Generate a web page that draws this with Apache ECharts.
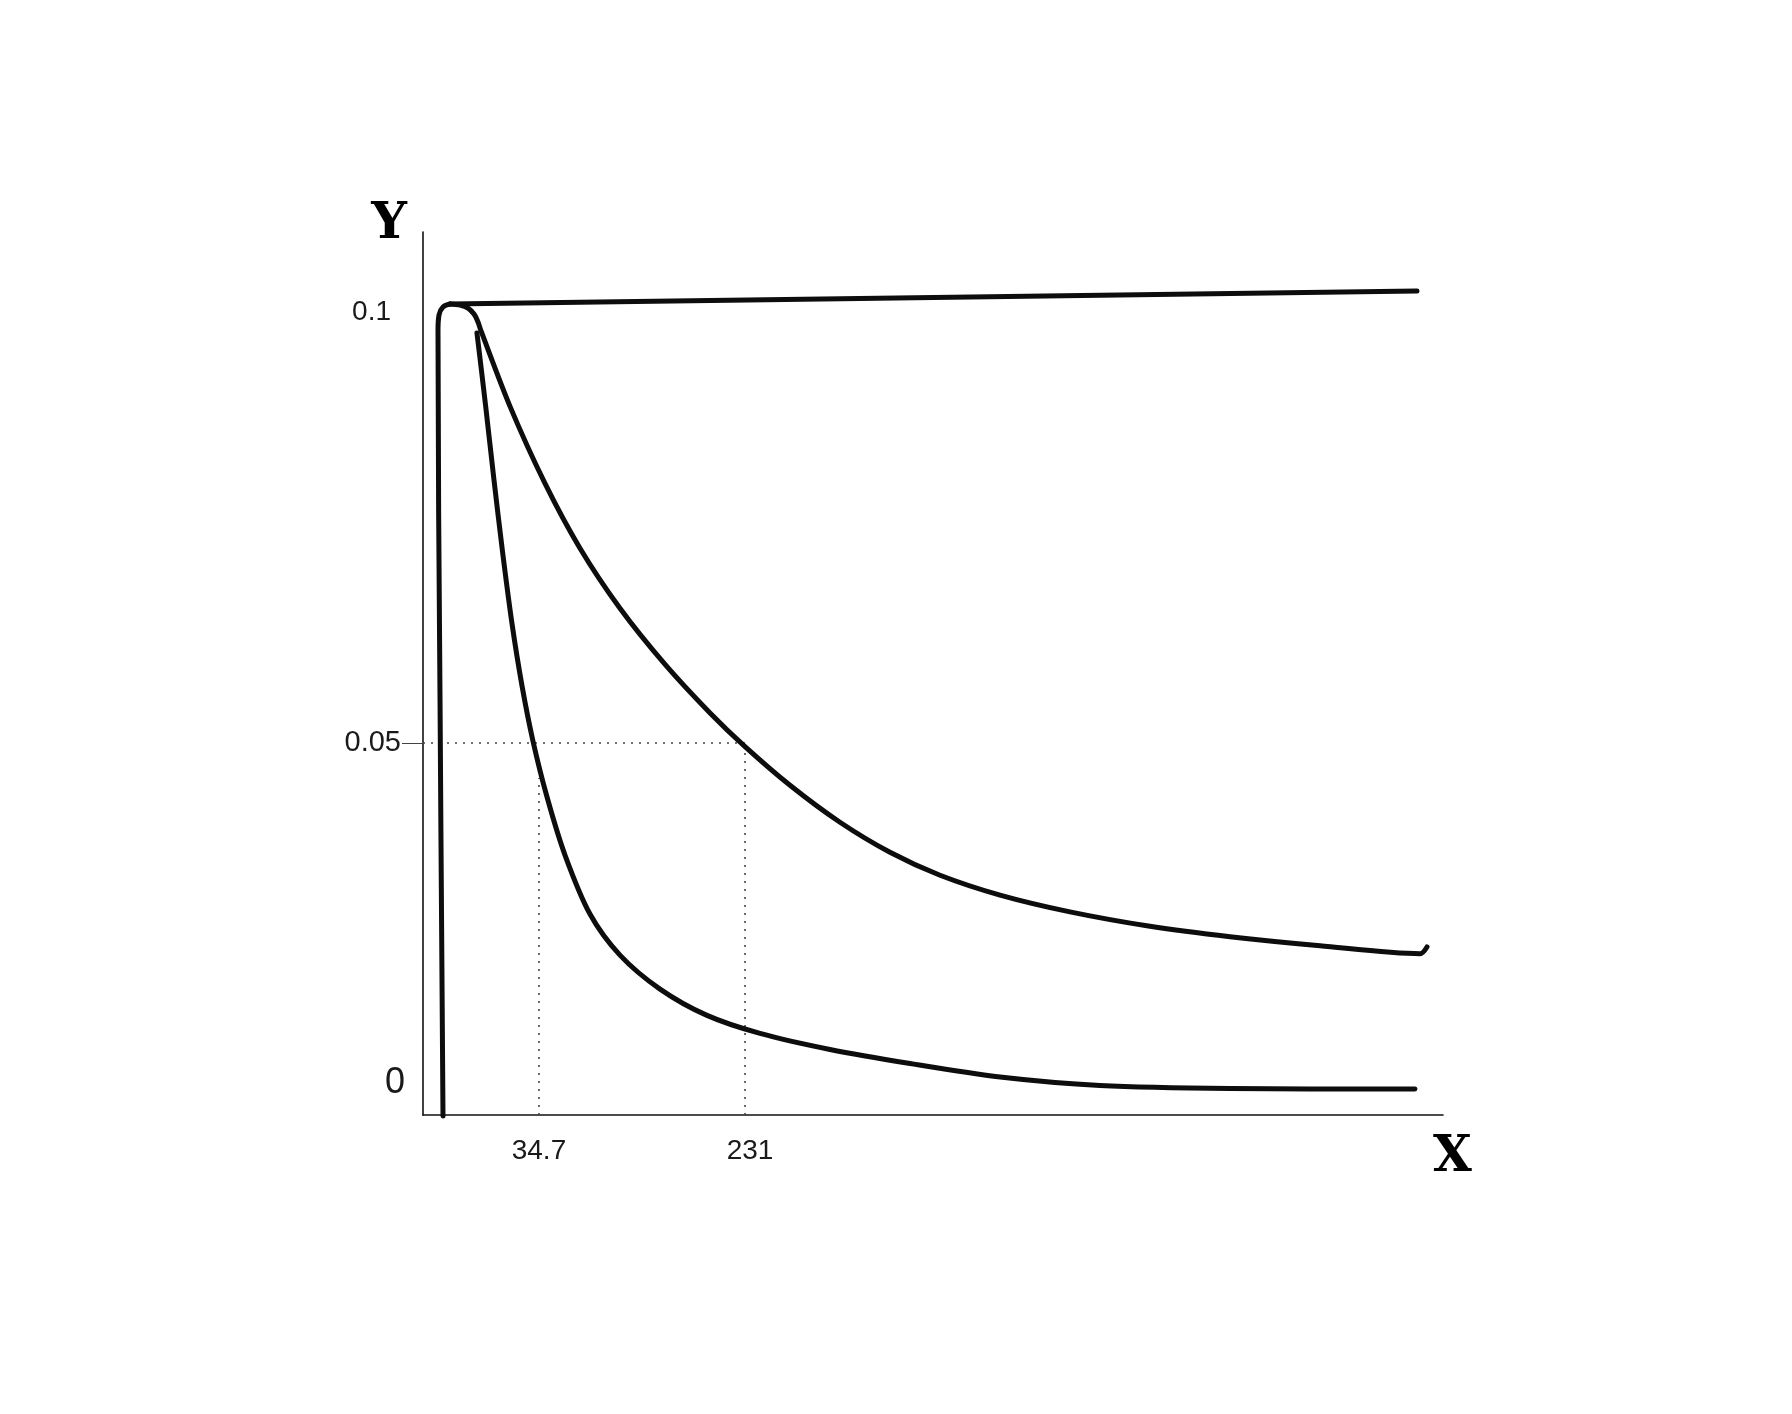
<!DOCTYPE html>
<html>
<head>
<meta charset="utf-8">
<script src="https://cdn.jsdelivr.net/npm/echarts@6/dist/echarts.min.js"></script>
<style>
  html, body { margin: 0; padding: 0; background: #ffffff; }
  #chart { width: 1792px; height: 1414px; }
</style>
</head>
<body>
<div id="chart"></div>
<script>
// Sketch chart: axes are drawn in nominal sketch units (0..100 on each axis);
// tick labels are placed where the sketch puts them.
var xTickPos = [11.37, 31.57];
var xTickText = ['34.7', '231'];
var yTickPos = [3.62, 42.13, 90.94];
var yTickText = ['0', '0.05', '0.1'];

// initial rise to the plateau
var riseX = [1.96, 1.67, 1.47, 1.57, 1.96, 2.65];
var riseY = [-0.11, 47.0, 88.9, 90.6, 91.5, 91.85];

// flat top curve
var topX = [2.65, 97.45];
var topY = [91.85, 93.32];

// slower decay curve (half value at 231)
var slowX = [2.65, 3.63, 4.41, 5.00, 5.39, 5.69, 8.53, 11.96, 15.39, 19.31, 23.73, 28.14, 31.57, 35.98, 40.88, 45.78, 50.69, 56.57, 63.43, 71.27, 79.12, 87.94, 97.75, 98.43];
var slowY = [91.85, 91.73, 91.39, 90.71, 89.81, 88.79, 80.25, 71.53, 64.19, 57.39, 51.03, 45.53, 41.72, 37.34, 33.15, 29.75, 27.15, 24.90, 23.00, 21.37, 20.19, 19.17, 18.27, 19.03];

// faster decay curve (half value at 34.7)
var fastX = [5.29, 6.13, 6.96, 7.80, 8.73, 9.71, 10.78, 12.16, 13.92, 16.37, 19.31, 23.24, 27.84, 33.04, 39.90, 47.75, 56.57, 66.37, 79.12, 97.25];
var fastY = [88.56, 80.41, 71.91, 63.76, 55.61, 48.58, 42.36, 36.01, 29.44, 22.76, 18.11, 14.26, 11.28, 9.24, 7.42, 5.83, 4.30, 3.34, 3.00, 2.94];

// dotted guide lines
var guideHX = [0, 31.57];
var guideHY = [42.13, 42.13];
var guideV1X = [11.37, 11.37];
var guideV1Y = [0, 38.17];
var guideV2X = [31.57, 31.57];
var guideV2Y = [0, 42.13];

function zip(xs, ys) { return xs.map(function (x, i) { return [x, ys[i]]; }); }
function labelFor(pos, txt) {
  return function (v) {
    for (var i = 0; i < pos.length; i++) { if (Math.abs(pos[i] - v) < 1e-6) return txt[i]; }
    return '';
  };
}

var curveStyle = { color: '#0d0d0d', width: 5, cap: 'round', join: 'round' };
var guideStyle = { color: '#444', width: 1.6, type: [2, 6] };

var chart = echarts.init(document.getElementById('chart'), null, { renderer: 'canvas' });
chart.setOption({
  backgroundColor: '#ffffff',
  animation: false,
  grid: { left: 423, top: 232, width: 1020, height: 883, containLabel: false },
  xAxis: {
    type: 'value', min: 0, max: 100,
    name: 'X', nameLocation: 'end', nameGap: -10,
    nameTextStyle: { fontFamily: 'DejaVu Serif', fontWeight: 'bold', fontSize: 50, color: '#000', verticalAlign: 'top', padding: [18, 0, 0, 0] },
    axisLine: { show: true, onZero: false, lineStyle: { color: '#111', width: 1.6 } },
    axisTick: { show: false },
    splitLine: { show: false },
    axisLabel: {
      customValues: xTickPos, margin: 22,
      fontFamily: 'Liberation Sans', fontSize: 28, color: '#1a1a1a',
      formatter: function (v) {
        var t = labelFor(xTickPos, xTickText)(v);
        return t === '231' ? '{r|231}' : t;
      },
      rich: { r: { fontFamily: 'Liberation Sans', fontSize: 28, color: '#1a1a1a', padding: [0, 0, 0, 10] } }
    }
  },
  yAxis: {
    type: 'value', min: 0, max: 100,
    name: 'Y', nameLocation: 'end', nameGap: -18,
    nameTextStyle: { fontFamily: 'DejaVu Serif', fontWeight: 'bold', fontSize: 50, color: '#000', padding: [0, 68, 0, 0] },
    axisLine: { show: true, onZero: false, lineStyle: { color: '#111', width: 1.6 } },
    axisTick: { show: true, customValues: [yTickPos[1]], length: 21, lineStyle: { color: '#444', width: 1 } },
    splitLine: { show: false },
    axisLabel: {
      customValues: yTickPos, margin: 18,
      fontFamily: 'Liberation Sans', color: '#1a1a1a',
      formatter: function (v) {
        var t = labelFor(yTickPos, yTickText)(v);
        if (t === '0') return '{z|0}';
        if (t === '0.05') return '{m|0.05}';
        if (t === '0.1') return '{t|0.1}';
        return '';
      },
      rich: {
        z: { fontFamily: 'Liberation Sans', fontSize: 36, color: '#1a1a1a' },
        m: { fontFamily: 'Liberation Sans', fontSize: 29, color: '#1a1a1a', padding: [0, 4, 0, 0] },
        t: { fontFamily: 'Liberation Sans', fontSize: 28, color: '#1a1a1a', padding: [0, 14, 0, 0] }
      }
    }
  },
  series: [
    { type: 'line', data: zip(guideHX, guideHY), showSymbol: false, lineStyle: guideStyle, silent: true },
    { type: 'line', data: zip(guideV1X, guideV1Y), showSymbol: false, lineStyle: guideStyle, silent: true },
    { type: 'line', data: zip(guideV2X, guideV2Y), showSymbol: false, lineStyle: guideStyle, silent: true },
    { type: 'line', data: zip(riseX, riseY), showSymbol: false, smooth: 0.4, clip: false, lineStyle: curveStyle },
    { type: 'line', data: zip(topX, topY), showSymbol: false, clip: false, lineStyle: curveStyle },
    { type: 'line', data: zip(slowX, slowY), showSymbol: false, smooth: 0.3, clip: false, lineStyle: curveStyle },
    { type: 'line', data: zip(fastX, fastY), showSymbol: false, smooth: 0.3, clip: false, lineStyle: curveStyle }
  ]
});
</script>
</body>
</html>
